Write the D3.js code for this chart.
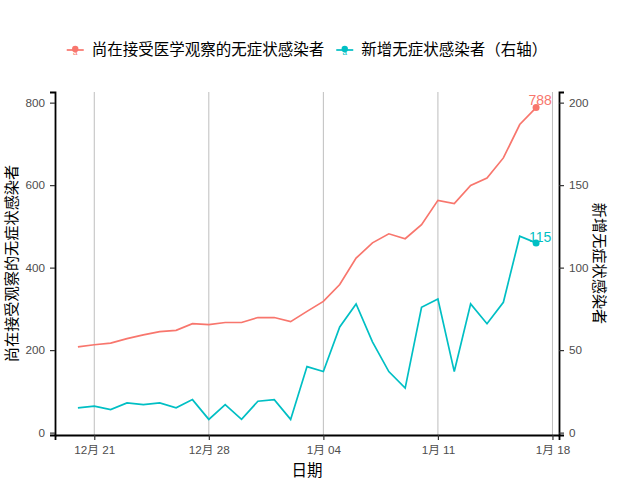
<!DOCTYPE html>
<html><head><meta charset="utf-8">
<script src="https://cdn.jsdelivr.net/npm/d3@7"></script>
<style>
body{margin:0;background:#fff;}
svg{display:block;font-family:"Liberation Sans",Arial,"Noto Sans CJK SC",sans-serif;}
.cjk{font-family:"Noto Sans CJK SC","Liberation Sans",sans-serif;}
</style></head>
<body>
<svg id="chart" width="640" height="480"></svg>
<script>
// ---- data ----
const dates = ["2020-12-20","2020-12-21","2020-12-22","2020-12-23","2020-12-24","2020-12-25","2020-12-26","2020-12-27","2020-12-28","2020-12-29","2020-12-30","2020-12-31","2021-01-01","2021-01-02","2021-01-03","2021-01-04","2021-01-05","2021-01-06","2021-01-07","2021-01-08","2021-01-09","2021-01-10","2021-01-11","2021-01-12","2021-01-13","2021-01-14","2021-01-15","2021-01-16","2021-01-17"];
const underObservation = [208,213,217,228,237,245,248,264,262,267,267,279,279,269,294,318,359,423,460,482,470,504,563,555,599,617,666,747,788];
const newAsymptomatic = [15,16,14,18,17,18,15,20,8,17,8,19,20,8,40,37,64,78,55,37,27,76,81,37,78,66,79,119,115];
const seriesNames = ["尚在接受医学观察的无症状感染者","新增无症状感染者（右轴）"];
const xTickDates = ["2020-12-21","2020-12-28","2021-01-04","2021-01-11","2021-01-18"];
const xTickLabels = ["12月 21","12月 28","1月 04","1月 11","1月 18"];
const leftTicks = [0,200,400,600,800];
const rightTicks = [0,50,100,150,200];
const secFactor = 4;
const colors = ["#F8766D","#00BFC4"];

const parse = d3.timeParse("%Y-%m-%d");
const dts = dates.map(parse);
const svg = d3.select("#chart");
const L = 55, R = 559, T = 92, B = 435;

// x scale with 5% expansion
const [d0, d1] = d3.extent(dts);
const span = d1 - d0;
const x = d3.scaleTime().domain([new Date(+d0 - span*0.05), new Date(+d1 + span*0.05)]).range([L, R]);

// y scale, combined data with 5% expansion
const allY = underObservation.concat(newAsymptomatic.map(v => v*secFactor));
const [ymin, ymax] = d3.extent(allY);
const ye = (ymax - ymin)*0.05;
const y = d3.scaleLinear().domain([ymin - ye, ymax + ye]).range([B, T]);
const y2 = d3.scaleLinear().domain([(ymin - ye)/secFactor, (ymax + ye)/secFactor]).range([B, T]);

// gridlines
svg.append("g").selectAll("line").data(xTickDates.map(parse)).join("line")
  .attr("x1", d => x(d)).attr("x2", d => x(d)).attr("y1", T).attr("y2", B)
  .attr("stroke", "#BEBEBE").attr("stroke-width", 1);

// lines
const s1 = dts.map((d,i) => ({d, v: underObservation[i]}));
const s2 = dts.map((d,i) => ({d, v: newAsymptomatic[i]}));
const line1 = d3.line().x(p => x(p.d)).y(p => y(p.v));
const line2 = d3.line().x(p => x(p.d)).y(p => y2(p.v));
svg.append("path").datum(s1).attr("d", line1).attr("fill","none").attr("stroke",colors[0]).attr("stroke-width",1.7);
svg.append("path").datum(s2).attr("d", line2).attr("fill","none").attr("stroke",colors[1]).attr("stroke-width",1.7);

// end points and labels
const last1 = s1[s1.length-1], last2 = s2[s2.length-1];
svg.append("circle").attr("cx", x(last1.d)).attr("cy", y(last1.v)).attr("r", 3.5).attr("fill", colors[0]);
svg.append("circle").attr("cx", x(last2.d)).attr("cy", y2(last2.v)).attr("r", 3.5).attr("fill", colors[1]);
svg.append("text").attr("x", x(last1.d)+4).attr("y", y(last1.v)-3).attr("text-anchor","middle")
  .attr("font-size", 14).attr("fill", colors[0]).text(last1.v);
svg.append("text").attr("x", x(last2.d)+4).attr("y", y2(last2.v)-1).attr("text-anchor","middle")
  .attr("font-size", 14).attr("fill", colors[1]).text(last2.v);

// axes
function styleAxis(g){
  g.select(".domain").attr("stroke","#000").attr("stroke-width",1.8);
  g.selectAll(".tick line").attr("stroke","#333").attr("stroke-width",1.2);
  g.selectAll(".tick text").attr("fill","#4D4D4D").attr("font-size",11.7)
   .attr("font-family",'"Liberation Sans",Arial,"Noto Sans CJK SC",sans-serif');
}
const xAxis = d3.axisBottom(x).tickValues(xTickDates.map(parse))
  .tickFormat((d,i) => xTickLabels[i]).tickSizeOuter(0).tickSize(5).tickPadding(6);
svg.append("g").attr("transform", `translate(0,${B})`).call(xAxis).call(styleAxis);

const yAxis = d3.axisLeft(y).tickValues(leftTicks).tickSizeOuter(0).tickSize(5).tickPadding(5);
svg.append("g").attr("transform", `translate(${L},0)`).call(yAxis).call(styleAxis);

const yAxis2 = d3.axisRight(y2).tickValues(rightTicks).tickSizeOuter(0).tickSize(5).tickPadding(5);
svg.append("g").attr("transform", `translate(${R},0)`).call(yAxis2).call(styleAxis);

// axis titles
svg.append("text").attr("class","cjk").attr("transform", `translate(17,${(T+B)/2}) rotate(-90)`)
  .attr("text-anchor","middle").attr("font-size",15.2).attr("fill","#000").text("尚在接受观察的无症状感染者");
svg.append("text").attr("class","cjk").attr("transform", `translate(594,${(T+B)/2}) rotate(90)`)
  .attr("text-anchor","middle").attr("font-size",15.2).attr("fill","#000").text("新增无症状感染者");
svg.append("text").attr("class","cjk").attr("x", (L+R)/2).attr("y", 476)
  .attr("text-anchor","middle").attr("font-size",15.5).attr("fill","#000").text("日期");

// legend
const leg = svg.append("g");
let cx = 0;
seriesNames.forEach((name, i) => {
  const g = leg.append("g").attr("transform", `translate(${cx},0)`);
  g.append("line").attr("x1",0).attr("x2",17).attr("y1",0).attr("y2",0).attr("stroke",colors[i]).attr("stroke-width",1.7);
  g.append("circle").attr("cx",8.5).attr("cy",-1).attr("r",3.2).attr("fill",colors[i]);
  g.append("text").attr("x",8.5).attr("y",5).attr("text-anchor","middle").attr("font-size",8).attr("fill",colors[i]).text("a");
  const t = g.append("text").attr("class","cjk").attr("x",25).attr("y",0).attr("dy","0.35em")
    .attr("font-size",15.5).attr("fill","#000").text(name);
  const w = t.node().getComputedTextLength();
  cx += 25 + w + 12;
});
const legW = cx - 12;
leg.attr("transform", `translate(${(L+R)/2 - legW/2},50)`);
</script>
</body></html>
